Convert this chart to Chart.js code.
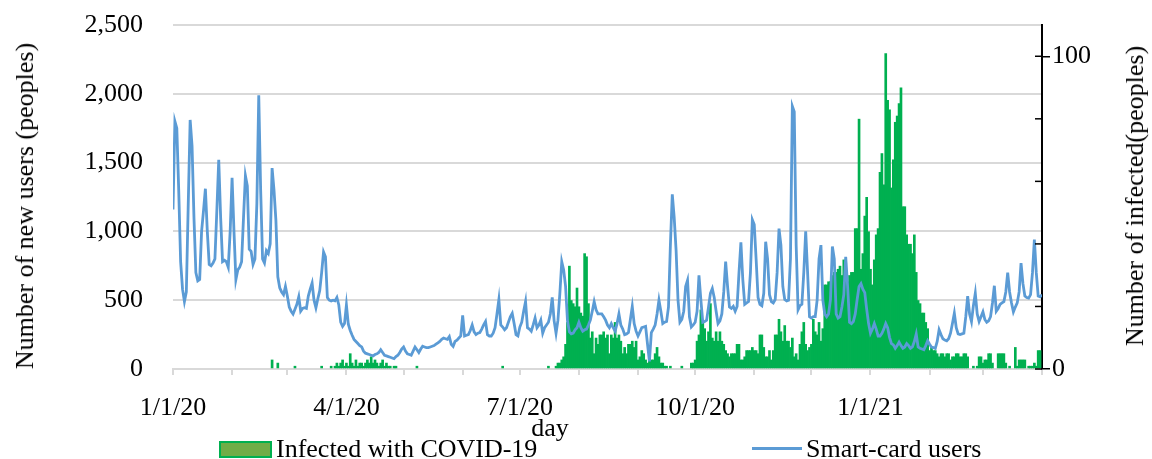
<!DOCTYPE html>
<html lang="en">
<head>
<meta charset="UTF-8">
<title>Smart-card users and COVID-19 infections</title>
<script src="https://cdn.jsdelivr.net/npm/chart.js"></script>
<style>
    body { margin: 0; background: #fff; }
    #wrap {
        position: relative;
        width: 1152px;
        height: 459px;
        font-family: 'Liberation Serif', 'Times New Roman', serif;
        color: #000;
    }
    .txt { position: absolute; font-size: 26px; line-height: 1; white-space: nowrap; }
    .vert { transform: translate(-50%, -50%) rotate(-90deg); }
    .mid { transform: translate(-50%, -50%); }
    .lg { transform: translateY(-50%); }
    #legBox {
        position: absolute; left: 219px; top: 441px; width: 53px; height: 17px;
        box-sizing: border-box; background: #70AD47; border: 2px solid #00B050;
    }
    #legLine {
        position: absolute; left: 752px; top: 447px; width: 50px; height: 3px;
        background: #5B9BD5;
    }
</style>
</head>
<body>
<div id="wrap">
    <canvas id="chart"></canvas>
    <div class="txt vert" style="left:25px; top:206px;">Number of new users (peoples)</div>
    <div class="txt vert" style="left:1135px; top:196px;">Number of infected(peoples)</div>
    <div class="txt mid" style="left:550px; top:428px;">day</div>
    <div id="legBox"></div>
    <div class="txt lg" style="left:276px; top:449px;">Infected with COVID-19</div>
    <div id="legLine"></div>
    <div class="txt lg" style="left:806px; top:449px;">Smart-card users</div>
</div>

<script>
    // one value per day, starting 1/1/20
    const smartCardUsers = [
        1160, 1800, 1750, 1300, 780, 580, 490, 560, 1200, 1810,
        1620, 1100, 700, 640, 650, 1000, 1150, 1310, 1000, 760,
        750, 770, 800, 1150, 1520, 1100, 780, 790, 780, 740,
        1000, 1390, 1000, 650, 720, 740, 780, 1100, 1405, 1330,
        870, 855, 760, 800, 1200, 1990, 1300, 800, 770, 860,
        840, 910, 1460, 1300, 1080, 670, 590, 560, 540, 600,
        530, 450, 420, 400, 435, 470, 525, 420, 440, 445,
        440, 530, 580, 625, 500, 445, 510, 570, 700, 850,
        815, 520, 500, 495, 500, 495, 520, 465, 340, 310,
        330, 465, 325, 280, 245, 215, 200, 185, 170, 160,
        130, 115, 110, 105, 100, 95, 105, 110, 120, 140,
        120, 100, 95, 90, 85, 80, 75, 90, 100, 120,
        145, 160, 130, 110, 105, 100, 130, 160, 140, 120,
        145, 165, 160, 155, 155, 160, 165, 170, 180, 190,
        200, 215, 225, 220, 215, 235, 180, 165, 200, 210,
        225, 240, 390, 240, 245, 250, 280, 320, 270, 250,
        260, 265, 290, 320, 345, 250, 240, 240, 260, 300,
        400, 505, 320, 305, 285, 300, 340, 380, 405, 330,
        250, 240, 305, 340, 420, 490, 300, 290, 275, 320,
        370, 300, 320, 355, 260, 300, 320, 340, 400, 520,
        350, 260, 355, 550, 780, 720, 600, 350, 270, 255,
        260, 285, 300, 340, 300, 275, 285, 290, 320, 355,
        420, 490, 430, 400, 400, 400, 380, 355, 320, 300,
        330, 300, 275, 330, 400, 320, 290, 250, 255, 265,
        360, 455, 330, 275, 240, 270, 300, 305, 310, 180,
        55, 265, 290, 320, 400, 500, 420, 330, 340, 345,
        450, 900, 1270, 1100, 860, 500, 340, 360, 420, 600,
        645, 380, 305, 320, 340, 420, 680, 500, 340, 345,
        355, 450, 550, 585, 520, 420, 330, 350, 400, 560,
        780, 600, 450, 440, 455, 420, 455, 700, 920, 650,
        470, 480, 490, 700, 1085, 1050, 795, 520, 470, 460,
        550, 925, 800, 540, 490, 480, 505, 700, 1020, 900,
        600, 505, 495, 500, 800, 1910, 1870, 900, 430, 460,
        470, 700, 1000, 700, 380, 370, 380, 380, 500, 800,
        900, 500, 400, 380, 400, 505, 890, 800, 400, 370,
        380, 450, 540, 815, 600, 340, 330, 345, 400, 505,
        600, 620, 580, 555, 435, 330, 260, 290, 330, 290,
        240, 240, 260, 290, 330, 300, 230, 185, 175, 150,
        170, 195, 170, 150, 160, 185, 170, 150, 160, 200,
        255, 160, 150, 145, 140, 170, 205, 180, 160, 155,
        150, 200, 285, 250, 220, 210, 205, 220, 260, 330,
        405, 300, 255, 250, 255, 260, 380, 530, 400, 345,
        460, 550, 400, 345, 380, 415, 360, 340, 350, 380,
        480, 605, 420, 440, 470, 480, 490, 560, 700, 560,
        480, 415, 450, 480, 560, 770, 620, 530, 520, 515,
        540, 700, 940, 700, 530, 525, 540
    ];

    const infected = [
        0, 0, 0, 0, 0, 0, 0, 0, 0, 0,
        0, 0, 0, 0, 0, 0, 0, 0, 0, 0,
        0, 0, 0, 0, 0, 0, 0, 0, 0, 0,
        0, 0, 0, 0, 0, 0, 0, 0, 0, 0,
        0, 0, 0, 0, 0, 0, 0, 0, 0, 0,
        0, 0, 3, 0, 0, 2, 0, 0, 0, 0,
        0, 0, 0, 0, 1, 0, 0, 0, 0, 0,
        0, 0, 0, 0, 0, 0, 0, 0, 1, 0,
        0, 0, 0, 1, 0, 1, 2, 1, 2, 3,
        1, 2, 1, 5, 2, 1, 3, 1, 2, 2,
        1, 2, 3, 2, 4, 2, 3, 2, 1, 2,
        3, 1, 2, 1, 1, 0, 1, 1, 0, 0,
        0, 0, 0, 0, 0, 0, 0, 0, 1, 0,
        0, 0, 0, 0, 0, 0, 0, 0, 0, 0,
        0, 0, 0, 0, 0, 0, 0, 0, 0, 0,
        0, 0, 0, 0, 0, 0, 0, 0, 0, 0,
        0, 0, 0, 0, 0, 0, 0, 0, 0, 0,
        0, 0, 0, 1, 0, 0, 0, 0, 0, 0,
        0, 0, 0, 0, 0, 0, 0, 0, 0, 0,
        0, 0, 0, 0, 0, 0, 0, 1, 0, 0,
        0, 1, 2, 2, 3, 4, 8, 15, 33, 22,
        21, 20, 26, 20, 18, 17, 37, 36, 21, 10,
        12, 5, 10, 8, 11, 11, 12, 10, 11, 5,
        11, 10, 15, 10, 11, 9, 5, 7, 5, 8,
        8, 9, 7, 9, 3, 4, 6, 5, 3, 2,
        4, 3, 3, 5, 7, 4, 2, 2, 1, 1,
        0, 1, 0, 0, 0, 0, 0, 1, 0, 0,
        0, 0, 2, 2, 3, 9, 11, 19, 15, 13,
        9, 12, 21, 10, 9, 12, 9, 12, 9, 8,
        6, 5, 4, 5, 5, 5, 8, 8, 3, 3,
        4, 6, 6, 6, 7, 6, 6, 5, 11, 11,
        7, 4, 4, 6, 3, 6, 11, 11, 16, 12,
        9, 14, 9, 9, 7, 10, 4, 5, 3, 8,
        12, 15, 8, 6, 7, 8, 16, 12, 11, 15,
        9, 13, 27, 27, 28, 28, 30, 31, 31, 32,
        33, 30, 35, 34, 28, 30, 31, 31, 45, 45,
        80, 32, 37, 49, 55, 44, 32, 27, 35, 43,
        45, 63, 69, 59, 101, 86, 83, 58, 67, 79,
        81, 85, 90, 52, 52, 43, 40, 40, 37, 43,
        31, 22, 21, 18, 18, 15, 13, 6, 7, 6,
        6, 5, 4, 5, 5, 4, 5, 5, 3, 4,
        4, 5, 5, 4, 4, 5, 5, 4, 0, 0,
        1, 0, 1, 4, 4, 2, 3, 3, 5, 5,
        2, 0, 0, 5, 5, 5, 5, 2, 0, 1,
        0, 0, 7, 1, 3, 3, 3, 3, 0, 1,
        1, 1, 2, 1, 6, 6, 0
    ];

    // day offsets of the first of each month, 1/1/20 .. 4/1/21
    const monthStartDays = [0, 31, 60, 91, 121, 152, 182, 213, 244, 274, 305, 335, 366, 397, 425, 456];
    const labelDays = [0, 91, 182, 274, 366];
    const dayLabels = ['1/1/20', '4/1/20', '7/1/20', '10/1/20', '1/1/21'];

    const font = { family: "'Liberation Serif', 'Times New Roman', serif", size: 26 };
    Chart.defaults.color = '#000';

    // small inward ticks on the right axis
    const innerTicks = {
        id: 'innerTicks',
        afterDraw(chart) {
            const s = chart.scales.y1;
            const ctx = chart.ctx;
            ctx.save();
            ctx.strokeStyle = '#000';
            ctx.lineWidth = 1.5;
            s.ticks.forEach(t => {
                const y = s.getPixelForValue(t.value);
                ctx.beginPath();
                ctx.moveTo(s.left - 7, y);
                ctx.lineTo(s.left, y);
                ctx.stroke();
            });
            ctx.restore();
        }
    };

    // keep the tick padding from pushing the plot area down
    function fixWidth(w) {
        return s => {
            s.width = w;
            s.paddingTop = 12;
            s.paddingBottom = 12;
        };
    }

    const ctx = document.getElementById('chart').getContext('2d');
    new Chart(ctx, {
        data: {
            datasets: [
                {
                    type: 'line',
                    label: 'Smart-card users',
                    data: smartCardUsers.map((v, i) => ({ x: i, y: v })),
                    borderColor: '#5B9BD5',
                    borderWidth: 2.8,
                    pointRadius: 0,
                    tension: 0,
                    yAxisID: 'y',
                    order: 0
                },
                {
                    type: 'bar',
                    label: 'Infected with COVID-19',
                    data: infected.map((v, i) => ({ x: i, y: v || null })),
                    backgroundColor: '#00B050',
                    barPercentage: 1.4,
                    categoryPercentage: 1,
                    yAxisID: 'y1',
                    order: 1
                }
            ]
        },
        options: {
            responsive: true,
            maintainAspectRatio: false,
            animation: false,
            layout: { padding: { top: 25, left: 0, right: 0, bottom: 0 } },
            plugins: { legend: { display: false }, tooltip: { enabled: false } },
            scales: {
                x: {
                    type: 'linear',
                    offset: false,
                    min: 0,
                    max: 456,
                    afterBuildTicks: s => { s.ticks = monthStartDays.map(v => ({ value: v })); },
                    afterFit: s => { s.height = 90; },
                    ticks: {
                        autoSkip: false,
                        maxRotation: 0,
                        font: font,
                        padding: 18,
                        callback: v => {
                            const k = labelDays.indexOf(v);
                            return k >= 0 ? dayLabels[k] : '';
                        }
                    },
                    grid: { drawOnChartArea: false, offset: false, color: '#d9d9d9', lineWidth: 2, tickLength: 6 },
                    border: { color: '#d9d9d9', width: 2 }
                },
                y: {
                    position: 'left',
                    min: 0,
                    max: 2500,
                    afterFit: fixWidth(173),
                    ticks: {
                        stepSize: 500,
                        font: font,
                        padding: 30,
                        callback: v => v.toLocaleString('en-US')
                    },
                    grid: { color: '#d9d9d9', lineWidth: 2, drawTicks: false },
                    border: { display: false }
                },
                y1: {
                    position: 'right',
                    min: 0,
                    max: 110,
                    afterFit: fixWidth(110),
                    ticks: {
                        stepSize: 10,
                        font: font,
                        padding: 2,
                        callback: v => (v % 50 === 0 ? v : '')
                    },
                    grid: {
                        drawOnChartArea: false,
                        tickLength: 8,
                        lineWidth: 1.5,
                        tickColor: c => (c.tick && c.tick.value % 50 === 0 ? '#000' : 'rgba(0,0,0,0)')
                    },
                    border: { color: '#000', width: 2 }
                }
            }
        },
        plugins: [innerTicks]
    });
</script>
</body>
</html>
